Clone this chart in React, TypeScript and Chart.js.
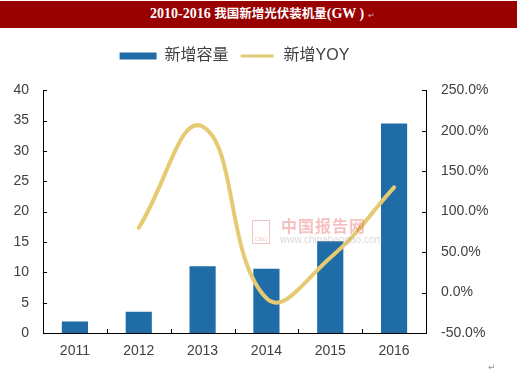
import React, { useEffect, useRef } from "react";
import { Chart, registerables } from "chart.js";

Chart.register(...registerables);

const categories = ["2011", "2012", "2013", "2014", "2015", "2016"];
const capacity = [1.9, 3.5, 11.0, 10.6, 15.1, 34.5];
const yoy = [null, 80, 205, -7, 43, 130];
const leftTicks = { min: 0, max: 40, step: 5 };
const rightTicks = { min: -50, max: 250, step: 50 };
const seriesNames = ["新增容量", "新增YOY"];
const titleParts = ["2010-2016 ", "我国新增光伏装机量", "(GW )"];

const BAR_COLOR = "#1f6ca7";
const LINE_COLOR = "#e6ca72";
const FONT = '"Liberation Sans", "Noto Sans CJK SC", sans-serif';

const innerTicks = {
  id: "innerTicks",
  afterDatasetsDraw(chart: any) {
    const { ctx, chartArea, scales } = chart;
    ctx.save();
    ctx.strokeStyle = "#000";
    ctx.lineWidth = 1;
    ctx.beginPath();
    const y = scales.y;
    y.ticks.forEach((t: any) => {
      const p = Math.round(y.getPixelForValue(t.value)) + 0.5;
      ctx.moveTo(chartArea.left, p);
      ctx.lineTo(chartArea.left + 4, p);
    });
    const y1 = scales.y1;
    y1.ticks.forEach((t: any) => {
      const p = Math.round(y1.getPixelForValue(t.value)) + 0.5;
      ctx.moveTo(chartArea.right - 4, p);
      ctx.lineTo(chartArea.right, p);
    });
    const x = scales.x;
    for (let i = 1; i < categories.length; i++) {
      const p = Math.round(x.getPixelForValue(i - 0.5)) + 0.5;
      ctx.moveTo(p, chartArea.bottom);
      ctx.lineTo(p, chartArea.bottom - 4);
    }
    ctx.stroke();
    ctx.restore();
  },
};

export default function App() {
  const ref = useRef<HTMLCanvasElement>(null);

  useEffect(() => {
    document.body.style.margin = "0";
    if (!ref.current) return;
    const chart = new Chart(ref.current, {
      type: "bar",
      data: {
        labels: categories,
        datasets: [
          {
            type: "bar",
            label: seriesNames[0],
            data: capacity,
            backgroundColor: BAR_COLOR,
            borderWidth: 0,
            yAxisID: "y",
            categoryPercentage: 1,
            barPercentage: 0.41,
            order: 2,
          },
          {
            type: "line",
            label: seriesNames[1],
            data: yoy,
            borderColor: LINE_COLOR,
            backgroundColor: LINE_COLOR,
            borderWidth: 4,
            borderCapStyle: "round",
            tension: 0.45,
            pointRadius: 0,
            yAxisID: "y1",
            order: 1,
          },
        ],
      },
      options: {
        responsive: false,
        animation: false,
        layout: { padding: { top: 38, left: 0, right: 0, bottom: 0 } },
        plugins: {
          tooltip: { enabled: false },
          legend: {
            display: true,
            position: "top",
            fullSize: false,
            labels: {
              boxWidth: 37,
              boxHeight: 7,
              padding: 10,
              color: "#404040",
              font: { size: 16, family: FONT },
              sort: (a: any, b: any) => a.datasetIndex - b.datasetIndex,
              generateLabels(chart: any) {
                const items = Chart.defaults.plugins.legend.labels.generateLabels(chart);
                items.forEach((it: any) => {
                  if (it.datasetIndex === 0) {
                    it.fillStyle = BAR_COLOR;
                    it.lineWidth = 0;
                  } else {
                    it.fillStyle = LINE_COLOR;
                    it.strokeStyle = "#ffffff";
                    it.lineWidth = 4;
                  }
                });
                return items;
              },
            },
          },
          subtitle: {
            display: true,
            text: "",
            fullSize: false,
            weight: 500,
            font: { size: 1 },
            padding: { top: 0, bottom: 15 },
          } as any,
        },
        scales: {
          x: {
            grid: { display: false, drawTicks: false },
            border: { display: true, color: "#000", width: 1 },
            ticks: { color: "#404040", font: { size: 14, family: FONT }, padding: 10 },
            afterFit(scale: any) {
              scale.height = 47;
            },
          },
          y: {
            position: "left",
            min: leftTicks.min,
            max: leftTicks.max,
            grid: { display: false, drawTicks: false },
            border: { display: true, color: "#000", width: 1 },
            ticks: {
              stepSize: leftTicks.step,
              color: "#404040",
              font: { size: 14, family: FONT },
              padding: 14,
            },
            afterFit(scale: any) {
              scale.width = 43;
            },
          },
          y1: {
            position: "right",
            min: rightTicks.min,
            max: rightTicks.max,
            grid: { display: false, drawTicks: false },
            border: { display: true, color: "#000", width: 1 },
            ticks: {
              stepSize: rightTicks.step,
              color: "#404040",
              font: { size: 14, family: FONT },
              padding: 15,
              callback: (v: any) => Number(v).toFixed(1) + "%",
            },
            afterFit(scale: any) {
              scale.width = 94;
            },
          },
        },
      },
      plugins: [innerTicks],
    });
    return () => chart.destroy();
  }, []);

  return (
    <div style={{ position: "relative", width: 520, height: 380, background: "#fff", overflow: "hidden" }}>
      <canvas ref={ref} width={520} height={380} style={{ display: "block", width: 520, height: 380 }} />
      <div
        style={{
          position: "absolute",
          left: 0,
          top: 1,
          width: 517,
          height: 27,
          background: "#990000",
          color: "#fff",
          fontFamily: '"Liberation Serif", "Noto Sans CJK SC", serif',
          fontWeight: "bold",
          fontSize: 14,
          lineHeight: "23px",
          textAlign: "center",
          boxSizing: "border-box",
          paddingLeft: 8,
          whiteSpace: "nowrap",
        }}
      >
        {titleParts[0]}
        <span style={{ fontFamily: '"Noto Sans CJK SC", sans-serif', fontSize: 12.5 }}>{titleParts[1]}</span>
        {titleParts[2]}
        <span style={{ color: "#d8b0b0", fontSize: 8, fontWeight: "normal", marginLeft: 4, fontFamily: '"DejaVu Sans", sans-serif' }}>↵</span>
      </div>
      <div
        style={{
          position: "absolute",
          left: 252,
          top: 216,
          width: 118,
          height: 30,
          opacity: 0.3,
          pointerEvents: "none",
        }}
      >
        <div
          style={{
            position: "absolute",
            left: 0,
            top: 4,
            width: 18,
            height: 24,
            border: "1px solid #d04040",
            color: "#d04040",
            fontSize: 6,
            fontFamily: '"Liberation Sans", sans-serif',
            lineHeight: "36px",
            textAlign: "center",
            boxSizing: "border-box",
          }}
        >
          CBG
        </div>
        <div
          style={{
            position: "absolute",
            left: 29,
            top: 0,
            fontSize: 16,
            fontWeight: "bold",
            color: "#e03030",
            fontFamily: '"Noto Sans CJK SC", sans-serif',
            lineHeight: "18px",
            letterSpacing: 1,
          }}
        >
          中国报告网
        </div>
        <div
          style={{
            position: "absolute",
            left: 28,
            top: 18,
            fontSize: 10,
            color: "#808080",
            fontFamily: '"Liberation Sans", sans-serif',
            lineHeight: "12px",
            whiteSpace: "nowrap",
          }}
        >
          www.chinabaogao.com
        </div>
      </div>
      <div
        style={{
          position: "absolute",
          left: 488,
          top: 362,
          fontSize: 9,
          color: "#909090",
          fontFamily: '"DejaVu Sans", sans-serif',
        }}
      >
        ↵
      </div>
    </div>
  );
}
